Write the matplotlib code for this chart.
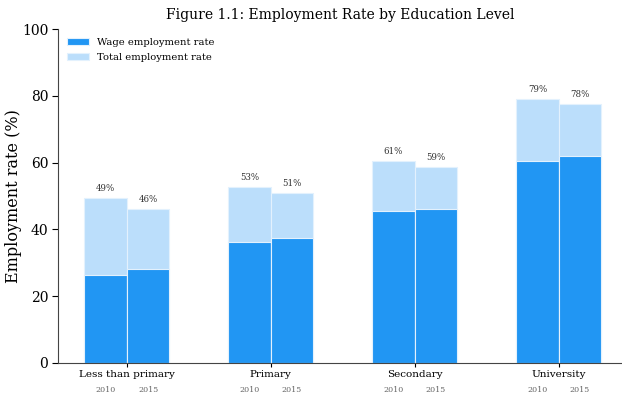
import numpy as np
import matplotlib.pyplot as plt
import matplotlib.transforms as mtransforms

plt.rcParams['font.family'] = 'DejaVu Serif'

categories = ['Less than primary', 'Primary', 'Secondary', 'University']
years = ['2010', '2015']
total_2010 = [49.3, 52.7, 60.6, 79.0]
total_2015 = [46.1, 50.9, 58.6, 77.5]
wage_2010 = [26.4, 36.2, 45.5, 60.5]
wage_2015 = [28.1, 37.4, 46.2, 62.0]
labels_2010 = ['49%', '53%', '61%', '79%']
labels_2015 = ['46%', '51%', '59%', '78%']

wage_color = '#2196F3'
total_color = '#BBDEFB'

fig = plt.figure(figsize=(6.22, 3.94), dpi=100)
ax = fig.add_axes([0.0932, 0.079, 0.9068, 0.847])

x = np.arange(len(categories))
w = 0.295
pos = [x - w / 2, x + w / 2]
totals = [total_2010, total_2015]
wages = [wage_2010, wage_2015]
labels = [labels_2010, labels_2015]

for i in range(2):
    ax.bar(pos[i], totals[i], w, color=total_color, edgecolor='#e3f1fd', linewidth=0.8,
           label='Total employment rate' if i == 0 else None)
    ax.bar(pos[i], wages[i], w, color=wage_color, edgecolor='#e3f1fd', linewidth=0.8,
           label='Wage employment rate' if i == 0 else None)
    for xp, t, lab in zip(pos[i], totals[i], labels[i]):
        ax.text(xp, t + 1.5, lab, ha='center', va='bottom', fontsize=6.2, color='#333333')

trans = mtransforms.blended_transform_factory(ax.transData, ax.transAxes)
for i in range(2):
    for xp in pos[i]:
        ax.text(xp, -0.082, years[i], transform=trans, ha='center', va='center',
                fontsize=5.8, color='#666666')

ax.set_xticks(x)
ax.set_xticklabels(categories, fontsize=7.5)
ax.tick_params(axis='x', length=3, pad=2)
ax.tick_params(axis='y', labelsize=10, length=4, pad=3)
ax.set_xlim(-0.479, 3.44)
ax.set_ylim(0, 100)
ax.set_yticks([0, 20, 40, 60, 80, 100])
ax.set_ylabel('Employment rate (%)', fontsize=11.5)
ax.yaxis.set_label_coords(-0.063, 0.5)
ax.set_title('Figure 1.1: Employment Rate by Education Level', fontsize=10, pad=7)

for s in ['top', 'right']:
    ax.spines[s].set_visible(False)
for s in ['left', 'bottom']:
    ax.spines[s].set_color('#444444')
    ax.spines[s].set_linewidth(0.8)

handles, lbls = ax.get_legend_handles_labels()
ax.legend(handles[::-1], lbls[::-1], loc='upper left', frameon=False, fontsize=7.2,
          handlelength=2.2, handleheight=0.6, borderaxespad=0.5, labelspacing=0.6)

fig.savefig('out.png', dpi=100)
